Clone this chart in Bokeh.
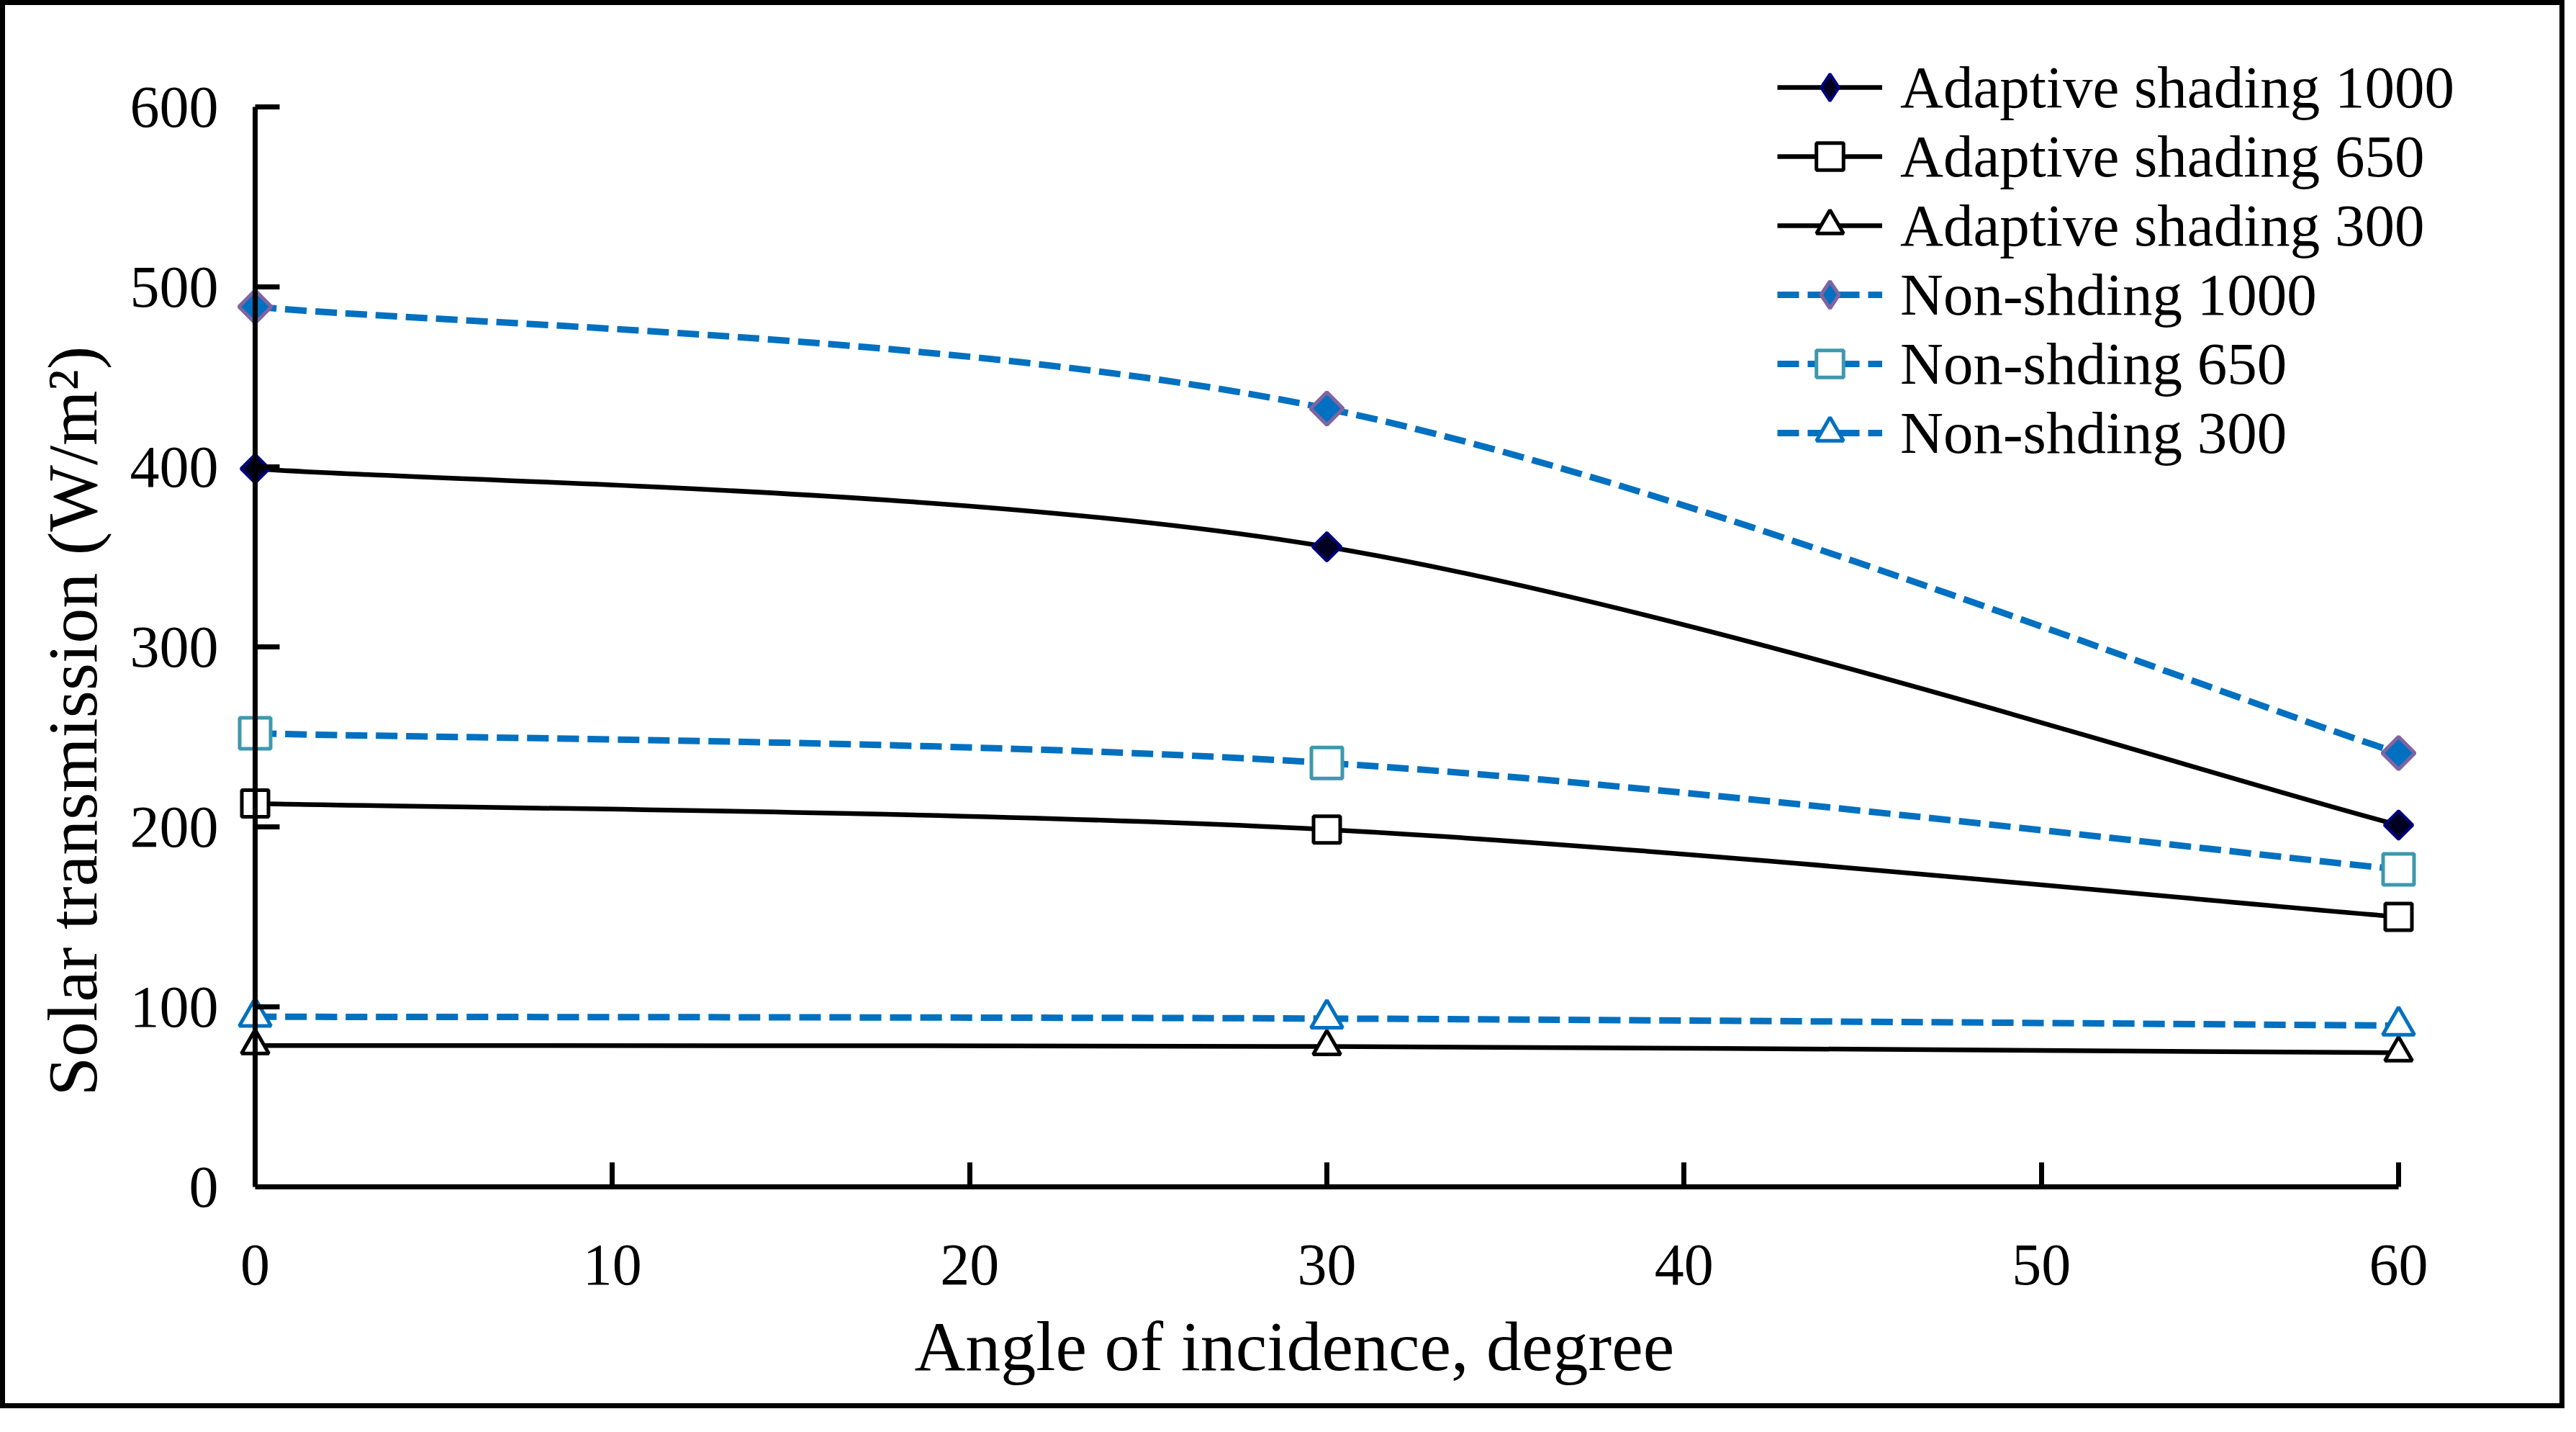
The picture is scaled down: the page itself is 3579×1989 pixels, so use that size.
import numpy as np
from bokeh.plotting import figure
from bokeh.models import (ColumnDataSource, Legend, LegendItem, Title, FixedTicker,
                          LinearAxis)
from bokeh.embed import file_html
from bokeh.resources import INLINE

# ---------------- data ----------------
angles = [0, 30, 60]
adaptive_1000 = [399, 355.6, 201]
adaptive_650 = [213, 198.5, 150]
adaptive_300 = [78.5, 78, 74.5]
non_1000 = [489, 432.4, 241]
non_650 = [252, 235.5, 176.4]
non_300 = [94.5, 93.5, 89.6]

series_names = ["Adaptive shading 1000", "Adaptive shading 650", "Adaptive shading 300",
                "Non-shding 1000", "Non-shding 650", "Non-shding 300"]

x_ticks = [0, 10, 20, 30, 40, 50, 60]
y_ticks = [0, 100, 200, 300, 400, 500, 600]
x_title = "Angle of incidence, degree"
y_title = "Solar transmission (W/m²)"

FONT = "Liberation Serif"
BLUE = "#0070C0"

# ---------------- layout (pixels) ----------------
W, H = 3563, 1956
AX_LEFT, AX_RIGHT, AX_TOP, AX_BOTTOM = 354, 3332, 148, 1648   # axis box (0..60, 0..600)
FR_LEFT, FR_RIGHT, FR_TOP = 304, 3450, 60                     # frame padded for markers/legend
x_span = 60 / (AX_RIGHT - AX_LEFT)
x_min = -x_span * (AX_LEFT - FR_LEFT)
x_max = x_span * (FR_RIGHT - AX_LEFT)
y_max = 600 * (AX_BOTTOM - FR_TOP) / (AX_BOTTOM - AX_TOP)


def smooth_segments(xs, ys):
    """Catmull-Rom style Bezier control points (Excel 'smoothed line')."""
    n = len(xs)
    d = dict(x0=[], y0=[], x1=[], y1=[], cx0=[], cy0=[], cx1=[], cy1=[])
    for i in range(n - 1):
        xp, yp = (xs[i - 1], ys[i - 1]) if i > 0 else (xs[i], ys[i])
        xn, yn = (xs[i + 2], ys[i + 2]) if i + 2 < n else (xs[i + 1], ys[i + 1])
        d["x0"].append(xs[i]); d["y0"].append(ys[i])
        d["x1"].append(xs[i + 1]); d["y1"].append(ys[i + 1])
        d["cx0"].append(xs[i] + (xs[i + 1] - xp) / 6.0)
        d["cy0"].append(ys[i] + (ys[i + 1] - yp) / 6.0)
        d["cx1"].append(xs[i + 1] - (xn - xs[i]) / 6.0)
        d["cy1"].append(ys[i + 1] - (yn - ys[i]) / 6.0)
    return ColumnDataSource(d)


p = figure(width=W, height=H, output_backend="svg", toolbar_location=None,
           x_range=(x_min, x_max), y_range=(0, y_max),
           min_border_left=FR_LEFT, min_border_right=W - FR_RIGHT,
           min_border_top=FR_TOP, min_border_bottom=H - AX_BOTTOM)
p.styles = {"outline": "7px solid black", "outline-offset": "-7px"}
p.grid.visible = False
p.outline_line_color = None
p.background_fill_color = "white"
p.border_fill_color = None


def style_axis(ax, ticks, bounds):
    ax.ticker = FixedTicker(ticks=ticks)
    ax.bounds = bounds
    ax.axis_line_color = "black"
    ax.axis_line_width = 7
    ax.major_tick_line_color = "black"
    ax.major_tick_line_width = 7
    ax.major_tick_in = 34
    ax.major_tick_out = 0
    ax.minor_tick_line_color = None
    ax.major_label_text_font = FONT
    ax.major_label_text_font_size = "82px"
    ax.major_label_text_color = "black"


xa = p.xaxis[0]
style_axis(xa, x_ticks, (0, 60))
xa.major_label_standoff = 81

# y tick labels (at the frame edge, just left of x = 0)
ya = p.yaxis[0]
style_axis(ya, y_ticks, (0, 600))
ya.axis_line_color = None
ya.major_tick_line_color = None
ya.major_label_standoff = AX_LEFT - FR_LEFT - 49

specs = [
    # values, line color, width, dash, marker, size, angle, fill, marker line, marker lw
    (adaptive_1000, "black", 6.5, "solid", "square", 28, np.pi / 4, "#000020", "#000080", 4),
    (adaptive_650, "black", 6.5, "solid", "square", 37, 0, "white", "black", 5),
    (adaptive_300, "black", 6.5, "solid", "triangle", 38, 0, "white", "black", 5),
    (non_1000, BLUE, 9, "30 12", "square", 32, np.pi / 4, BLUE, "#8064A2", 5),
    (non_650, BLUE, 9, "30 12", "square", 43, 0, "white", "#3E98AE", 5),
    (non_300, BLUE, 9, "30 12", "triangle", 44, 0, "white", BLUE, 5),
]

items = []
for name, (vals, lc, lw, dash, mk, sz, ang, fc, mlc, mlw) in zip(series_names, specs):
    src = smooth_segments(angles, vals)
    lr = p.bezier(x0="x0", y0="y0", x1="x1", y1="y1", cx0="cx0", cy0="cy0",
                  cx1="cx1", cy1="cy1", source=src, line_color=lc, line_width=lw,
                  line_dash=dash)
    key = None
    if ang:
        # legend glyphs are never rotated: a diamond key, hidden under the rotated squares
        key = p.scatter(angles, vals, marker="diamond", size=sz * 1.25, fill_color=fc,
                        line_color=mlc, line_width=mlw)
    sr = p.scatter(angles, vals, marker=mk, size=sz, angle=ang, fill_color=fc,
                   line_color=mlc, line_width=mlw)
    items.append(LegendItem(label=name, renderers=[lr, key if key is not None else sr]))

legend = Legend(items=items, location=(2165, 999), label_text_font=FONT,
                label_text_font_size="83px", label_text_color="black",
                label_text_line_height=1.0,
                glyph_width=146, glyph_height=94, label_height=94, label_standoff=25,
                spacing=0, padding=0, margin=0, border_line_color=None,
                background_fill_alpha=0)
p.add_layout(legend, "center")

p.add_layout(Title(text=x_title, align="left", offset=916 + AX_LEFT - FR_LEFT,
                   text_font=FONT, text_font_size="98px", text_font_style="normal",
                   text_color="black", standoff=54), "below")
p.add_layout(Title(text=y_title, align="left", offset=126, text_font=FONT,
                   text_font_size="98px", text_font_style="normal", text_color="black",
                   standoff=46), "left")

# y axis line and ticks at x = 0
y_line = LinearAxis(fixed_location=0)
style_axis(y_line, y_ticks, (0, 600))
y_line.major_label_overrides = {t: "" for t in y_ticks}
y_line.major_label_standoff = 0
p.add_layout(y_line, "left")

open("out.html", "w").write(file_html(p, INLINE))
